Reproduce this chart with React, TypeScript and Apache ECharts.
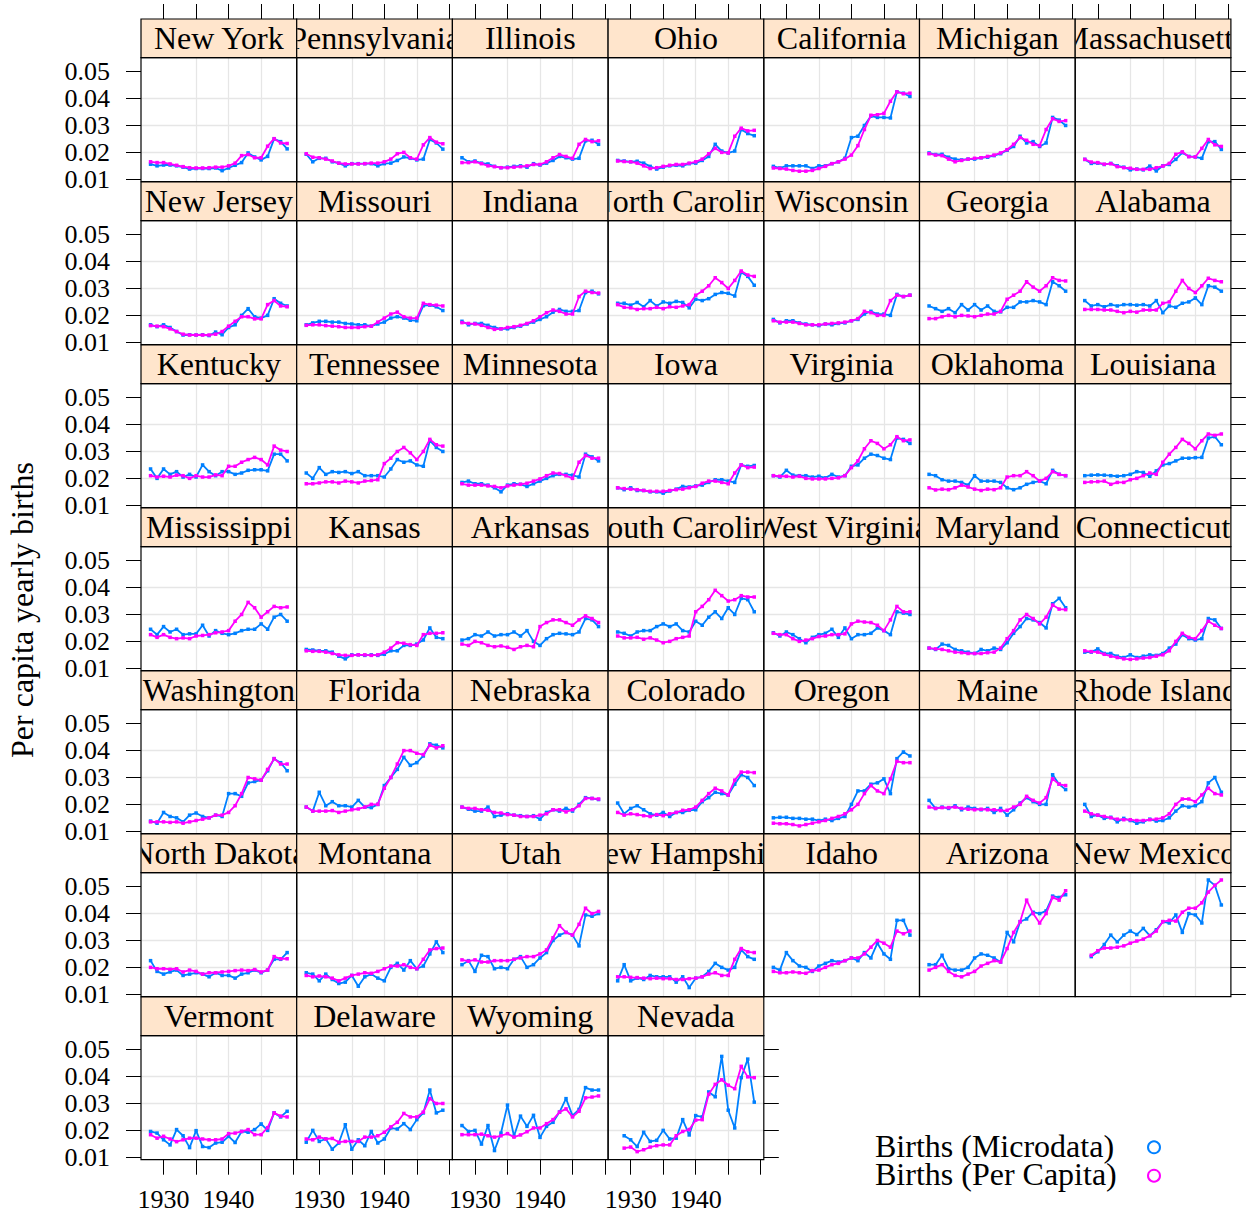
import React, { useEffect, useRef } from "react";
import * as echarts from "echarts";

// ---------- data ----------
const YEARS_FROM_1928 = [1928, 1929, 1930, 1931, 1932, 1933, 1934, 1935, 1936, 1937, 1938, 1939, 1940, 1941, 1942, 1943, 1944, 1945, 1946, 1947, 1948, 1949];
const YEARS_FROM_1929 = [1929, 1930, 1931, 1932, 1933, 1934, 1935, 1936, 1937, 1938, 1939, 1940, 1941, 1942, 1943, 1944, 1945, 1946, 1947, 1948, 1949];

const X_TICKS = [1930, 1935, 1940, 1945, 1950];
const X_LABELS = [1930, 1940];
const Y_TICKS = [0.01, 0.02, 0.03, 0.04, 0.05];

const SERIES_NAMES = ["Births (Microdata)", "Births (Per Capita)"];
const SERIES_COLORS = ["#0080ff", "#ff00ff"];
const Y_TITLE = "Per capita yearly births";

const newYorkMicro = [.0156, .0150, .0153, .0153, .0150, .0145, .0138, .0140, .0140, .0140, .0142, .0132, .0142, .0152, .0162, .0198, .0183, .0172, .0185, .0250, .0240, .0213];
const newYorkPerCapita = [.0165, .0162, .0162, .0157, .0152, .0147, .0143, .0142, .0142, .0143, .0145, .0145, .0150, .0160, .0188, .0192, .0180, .0180, .0223, .0251, .0235, .0233];
const pennsylvaniaMicro = [.0193, .0165, .0178, .0178, .0165, .0160, .0150, .0158, .0158, .0158, .0158, .0150, .0158, .0160, .0170, .0183, .0178, .0172, .0175, .0248, .0235, .0212];
const pennsylvaniaPerCapita = [.0195, .0182, .0180, .0175, .0168, .0160, .0157, .0157, .0157, .0158, .0160, .0160, .0165, .0175, .0195, .0200, .0180, .0175, .0228, .0255, .0238, .0232];
const illinoisMicro = [.0180, .0165, .0168, .0160, .0157, .0148, .0143, .0145, .0148, .0150, .0145, .0158, .0153, .0160, .0170, .0185, .0180, .0175, .0178, .0243, .0245, .0230];
const illinoisPerCapita = [.0162, .0162, .0165, .0158, .0150, .0147, .0143, .0143, .0145, .0147, .0150, .0155, .0155, .0165, .0180, .0192, .0185, .0178, .0230, .0248, .0240, .0243];
const ohioMicro = [.0170, .0168, .0165, .0167, .0160, .0148, .0138, .0145, .0150, .0152, .0150, .0158, .0160, .0170, .0185, .0230, .0205, .0198, .0205, .0285, .0270, .0262];
const ohioPerCapita = [.0168, .0166, .0165, .0160, .0150, .0140, .0143, .0148, .0152, .0155, .0155, .0160, .0165, .0175, .0195, .0215, .0200, .0198, .0260, .0290, .0280, .0282];
const californiaMicro = [.0148, .0142, .0150, .0150, .0150, .0150, .0140, .0150, .0150, .0158, .0165, .0178, .0255, .0260, .0300, .0335, .0330, .0330, .0328, .0425, .0420, .0408];
const californiaPerCapita = [.0142, .0140, .0138, .0133, .0130, .0130, .0133, .0140, .0148, .0158, .0165, .0175, .0190, .0225, .0285, .0338, .0340, .0345, .0390, .0425, .0418, .0420];
const michiganMicro = [.0198, .0192, .0193, .0182, .0175, .0172, .0175, .0175, .0180, .0182, .0188, .0195, .0208, .0222, .0260, .0235, .0240, .0222, .0235, .0330, .0320, .0300];
const michiganPerCapita = [.0195, .0190, .0188, .0175, .0165, .0170, .0175, .0178, .0180, .0185, .0190, .0198, .0210, .0230, .0255, .0245, .0230, .0225, .0285, .0325, .0315, .0318];
const massachusettsMicro = [.0174, .0159, .0160, .0155, .0159, .0150, .0145, .0135, .0138, .0135, .0149, .0131, .0150, .0155, .0174, .0199, .0185, .0183, .0178, .0240, .0240, .0211];
const massachusettsPerCapita = [.0174, .0164, .0162, .0156, .0158, .0147, .0143, .0141, .0137, .0137, .0137, .0143, .0149, .0159, .0193, .0202, .0184, .0183, .0215, .0248, .0228, .0222];

const newJerseyMicro = [.0165, .0158, .0165, .0155, .0140, .0127, .0128, .0127, .0128, .0125, .0138, .0128, .0155, .0165, .0200, .0225, .0195, .0190, .0200, .0262, .0245, .0235];
const newJerseyPerCapita = [.0162, .0160, .0158, .0150, .0140, .0130, .0127, .0127, .0127, .0127, .0130, .0140, .0160, .0178, .0195, .0195, .0187, .0187, .0240, .0255, .0235, .0232];
const missouriMicro = [.0165, .0172, .0178, .0178, .0175, .0175, .0170, .0168, .0165, .0165, .0160, .0168, .0175, .0190, .0195, .0190, .0182, .0180, .0236, .0238, .0232, .0218];
const missouriPerCapita = [.0163, .0165, .0165, .0162, .0160, .0158, .0155, .0155, .0155, .0158, .0160, .0175, .0190, .0205, .0212, .0195, .0190, .0190, .0245, .0240, .0238, .0235];
const indianaMicro = [.0178, .0165, .0170, .0170, .0163, .0155, .0150, .0150, .0155, .0160, .0168, .0175, .0185, .0195, .0212, .0222, .0215, .0215, .0218, .0285, .0290, .0280];
const indianaPerCapita = [.0173, .0170, .0168, .0163, .0155, .0148, .0150, .0155, .0158, .0163, .0170, .0180, .0195, .0210, .0220, .0215, .0205, .0205, .0270, .0290, .0285, .0283];
const northCarolinaMicro = [.0245, .0245, .0238, .0248, .0232, .0255, .0235, .0250, .0245, .0252, .0248, .0228, .0260, .0255, .0262, .0278, .0285, .0282, .0272, .0360, .0345, .0312];
const northCarolinaPerCapita = [.0240, .0230, .0228, .0222, .0225, .0225, .0230, .0225, .0232, .0230, .0235, .0240, .0275, .0290, .0310, .0340, .0322, .0300, .0330, .0365, .0350, .0345];
const wisconsinMicro = [.0185, .0172, .0180, .0180, .0172, .0168, .0165, .0162, .0168, .0165, .0170, .0172, .0180, .0185, .0205, .0215, .0205, .0205, .0200, .0278, .0270, .0275];
const wisconsinPerCapita = [.0180, .0175, .0175, .0175, .0170, .0165, .0165, .0165, .0168, .0170, .0172, .0175, .0180, .0188, .0215, .0210, .0200, .0200, .0255, .0275, .0270, .0275];
const georgiaMicro = [.0235, .0225, .0215, .0225, .0210, .0240, .0220, .0240, .0220, .0235, .0215, .0213, .0230, .0230, .0250, .0250, .0255, .0250, .0240, .0325, .0310, .0290];
const georgiaPerCapita = [.0188, .0188, .0195, .0200, .0195, .0200, .0198, .0195, .0200, .0205, .0205, .0215, .0260, .0275, .0290, .0325, .0305, .0290, .0310, .0340, .0330, .0328];
const alabamaMicro = [.0255, .0235, .0240, .0232, .0240, .0235, .0240, .0240, .0238, .0240, .0235, .0255, .0210, .0235, .0230, .0245, .0250, .0265, .0240, .0310, .0305, .0290];
const alabamaPerCapita = [.0222, .0222, .0222, .0220, .0220, .0215, .0210, .0215, .0212, .0220, .0220, .0220, .0245, .0250, .0290, .0330, .0300, .0285, .0310, .0338, .0330, .0325];

const kentuckyMicro = [.0235, .0200, .0235, .0215, .0225, .0205, .0215, .0205, .0250, .0225, .0210, .0225, .0225, .0215, .0220, .0230, .0232, .0232, .0228, .0290, .0290, .0265];
const kentuckyPerCapita = [.0210, .0205, .0208, .0205, .0212, .0210, .0200, .0210, .0205, .0205, .0213, .0210, .0245, .0245, .0260, .0270, .0278, .0270, .0250, .0320, .0305, .0300];
const tennesseeMicro = [.0220, .0200, .0240, .0215, .0225, .0222, .0225, .0218, .0225, .0210, .0210, .0210, .0205, .0235, .0270, .0260, .0265, .0250, .0245, .0340, .0315, .0300];
const tennesseePerCapita = [.0180, .0180, .0183, .0187, .0187, .0183, .0190, .0187, .0183, .0190, .0192, .0195, .0255, .0275, .0300, .0315, .0295, .0270, .0300, .0345, .0325, .0320];
const minnesotaMicro = [.0185, .0190, .0180, .0180, .0175, .0165, .0150, .0175, .0180, .0178, .0170, .0180, .0190, .0200, .0210, .0215, .0215, .0212, .0205, .0290, .0280, .0265];
const minnesotaPerCapita = [.0180, .0175, .0175, .0175, .0172, .0170, .0165, .0172, .0175, .0178, .0182, .0190, .0198, .0210, .0220, .0218, .0210, .0200, .0260, .0285, .0275, .0275];
const iowaMicro = [.0165, .0158, .0165, .0155, .0155, .0150, .0150, .0145, .0153, .0160, .0170, .0168, .0172, .0175, .0185, .0195, .0195, .0190, .0185, .0250, .0245, .0248];
const iowaPerCapita = [.0165, .0162, .0160, .0158, .0155, .0152, .0152, .0152, .0155, .0158, .0160, .0165, .0170, .0182, .0190, .0190, .0185, .0180, .0220, .0250, .0240, .0242];
const virginiaMicro = [.0210, .0205, .0230, .0212, .0210, .0210, .0205, .0208, .0202, .0215, .0205, .0210, .0245, .0250, .0275, .0290, .0285, .0275, .0270, .0350, .0345, .0330];
const virginiaPerCapita = [.0210, .0208, .0208, .0205, .0208, .0200, .0198, .0198, .0198, .0200, .0202, .0210, .0240, .0265, .0310, .0340, .0330, .0310, .0325, .0355, .0340, .0343];
const oklahomaMicro = [.0215, .0210, .0195, .0190, .0190, .0185, .0175, .0210, .0190, .0190, .0190, .0185, .0165, .0158, .0165, .0178, .0185, .0190, .0180, .0230, .0215, .0210];
const oklahomaPerCapita = [.0165, .0157, .0160, .0158, .0165, .0175, .0168, .0160, .0155, .0160, .0158, .0165, .0205, .0210, .0210, .0225, .0210, .0190, .0200, .0225, .0215, .0210];
const louisianaMicro = [.0210, .0212, .0213, .0212, .0210, .0208, .0210, .0215, .0225, .0222, .0208, .0228, .0250, .0255, .0265, .0275, .0275, .0277, .0278, .0350, .0355, .0325];
const louisianaPerCapita = [.0185, .0187, .0188, .0190, .0178, .0185, .0185, .0195, .0200, .0210, .0220, .0215, .0260, .0290, .0315, .0345, .0330, .0310, .0340, .0365, .0360, .0365];

const mississippiMicro = [.0245, .0225, .0255, .0235, .0245, .0225, .0228, .0228, .0260, .0220, .0240, .0230, .0225, .0230, .0240, .0245, .0245, .0265, .0245, .0290, .0300, .0275];
const mississippiPerCapita = [.0225, .0215, .0225, .0215, .0210, .0213, .0210, .0220, .0222, .0225, .0232, .0235, .0240, .0275, .0300, .0345, .0325, .0290, .0310, .0330, .0325, .0328];
const kansasMicro = [.0170, .0168, .0165, .0165, .0160, .0145, .0135, .0150, .0150, .0148, .0150, .0148, .0152, .0165, .0165, .0185, .0185, .0190, .0205, .0250, .0215, .0210];
const kansasPerCapita = [.0165, .0163, .0163, .0160, .0155, .0150, .0148, .0148, .0150, .0150, .0148, .0150, .0160, .0175, .0195, .0193, .0188, .0185, .0225, .0230, .0230, .0232];
const arkansasMicro = [.0205, .0210, .0225, .0220, .0235, .0220, .0225, .0225, .0235, .0220, .0240, .0200, .0185, .0210, .0225, .0230, .0228, .0225, .0235, .0285, .0280, .0255];
const arkansasPerCapita = [.0190, .0185, .0200, .0195, .0185, .0180, .0183, .0178, .0170, .0180, .0185, .0180, .0255, .0270, .0280, .0280, .0270, .0260, .0280, .0295, .0285, .0270];
const southCarolinaMicro = [.0235, .0230, .0220, .0235, .0240, .0240, .0255, .0265, .0255, .0265, .0240, .0235, .0275, .0260, .0290, .0310, .0285, .0325, .0300, .0360, .0355, .0310];
const southCarolinaPerCapita = [.0220, .0213, .0213, .0215, .0208, .0213, .0205, .0195, .0200, .0210, .0215, .0220, .0310, .0330, .0355, .0390, .0370, .0350, .0355, .0370, .0365, .0365];
const westVirginiaMicro = [.0232, .0220, .0235, .0225, .0210, .0195, .0215, .0225, .0230, .0245, .0215, .0250, .0210, .0225, .0225, .0230, .0250, .0240, .0225, .0310, .0305, .0300];
const westVirginiaPerCapita = [.0230, .0225, .0225, .0210, .0200, .0205, .0210, .0218, .0220, .0225, .0225, .0228, .0265, .0275, .0272, .0270, .0260, .0240, .0280, .0330, .0310, .0310];
const marylandMicro = [.0175, .0170, .0190, .0185, .0170, .0165, .0160, .0155, .0170, .0165, .0175, .0170, .0195, .0230, .0255, .0285, .0280, .0270, .0250, .0340, .0360, .0325];
const marylandPerCapita = [.0175, .0172, .0170, .0165, .0160, .0158, .0155, .0155, .0155, .0158, .0160, .0175, .0210, .0240, .0280, .0300, .0285, .0265, .0290, .0335, .0320, .0318];
const connecticutMicro = [.0160, .0160, .0172, .0155, .0155, .0145, .0140, .0150, .0140, .0145, .0150, .0148, .0155, .0175, .0190, .0225, .0210, .0205, .0210, .0285, .0280, .0248];
const connecticutPerCapita = [.0165, .0162, .0160, .0152, .0145, .0140, .0135, .0133, .0135, .0138, .0140, .0145, .0150, .0165, .0200, .0230, .0215, .0210, .0240, .0275, .0260, .0248];

const washingtonMicro = [.0138, .0130, .0170, .0155, .0150, .0135, .0160, .0168, .0155, .0150, .0160, .0155, .0240, .0240, .0230, .0280, .0285, .0290, .0325, .0370, .0355, .0325];
const washingtonPerCapita = [.0135, .0135, .0135, .0133, .0135, .0130, .0135, .0140, .0145, .0150, .0160, .0160, .0170, .0195, .0240, .0300, .0295, .0290, .0330, .0370, .0350, .0350];
const floridaMicro = [.0190, .0175, .0245, .0195, .0210, .0195, .0195, .0190, .0215, .0190, .0188, .0200, .0270, .0300, .0330, .0375, .0345, .0355, .0380, .0425, .0420, .0410];
const floridaPerCapita = [.0190, .0175, .0175, .0175, .0177, .0170, .0175, .0180, .0183, .0190, .0200, .0200, .0260, .0300, .0350, .0400, .0400, .0390, .0385, .0420, .0410, .0418];
const nebraskaMicro = [.0190, .0182, .0175, .0175, .0190, .0155, .0160, .0165, .0160, .0158, .0155, .0158, .0145, .0170, .0180, .0175, .0185, .0175, .0200, .0225, .0222, .0218];
const nebraskaPerCapita = [.0190, .0185, .0185, .0180, .0178, .0170, .0168, .0162, .0160, .0155, .0155, .0155, .0160, .0165, .0180, .0180, .0172, .0180, .0195, .0222, .0222, .0220];
const coloradoMicro = [.0205, .0165, .0185, .0195, .0180, .0165, .0160, .0170, .0155, .0170, .0170, .0178, .0180, .0210, .0225, .0245, .0240, .0235, .0275, .0310, .0300, .0270];
const coloradoPerCapita = [.0170, .0160, .0165, .0162, .0158, .0155, .0162, .0158, .0165, .0170, .0178, .0180, .0190, .0215, .0240, .0260, .0250, .0235, .0290, .0320, .0320, .0318];
const oregonMicro = [.0150, .0152, .0152, .0148, .0148, .0145, .0145, .0140, .0145, .0140, .0148, .0155, .0200, .0250, .0250, .0275, .0280, .0295, .0240, .0370, .0395, .0380];
const oregonPerCapita = [.0130, .0128, .0128, .0125, .0120, .0125, .0130, .0135, .0140, .0148, .0155, .0165, .0180, .0200, .0240, .0270, .0250, .0240, .0295, .0360, .0355, .0355];
const maineMicro = [.0215, .0185, .0190, .0185, .0195, .0180, .0190, .0185, .0180, .0185, .0170, .0185, .0160, .0180, .0205, .0225, .0210, .0200, .0200, .0310, .0275, .0255];
const mainePerCapita = [.0190, .0185, .0188, .0188, .0190, .0185, .0182, .0180, .0182, .0180, .0180, .0177, .0178, .0190, .0200, .0230, .0215, .0205, .0225, .0295, .0275, .0270];
const rhodeIslandMicro = [.0200, .0155, .0160, .0148, .0152, .0135, .0148, .0140, .0130, .0135, .0145, .0138, .0140, .0150, .0175, .0195, .0190, .0195, .0210, .0280, .0300, .0245];
const rhodeIslandPerCapita = [.0175, .0165, .0160, .0155, .0150, .0145, .0143, .0143, .0140, .0140, .0143, .0145, .0150, .0165, .0200, .0220, .0220, .0210, .0235, .0260, .0240, .0235];

const northDakotaMicro = [.0225, .0185, .0175, .0183, .0190, .0170, .0175, .0180, .0175, .0165, .0180, .0170, .0170, .0160, .0175, .0180, .0190, .0180, .0190, .0230, .0230, .0255];
const northDakotaPerCapita = [.0200, .0195, .0195, .0193, .0195, .0183, .0190, .0185, .0175, .0180, .0180, .0183, .0185, .0188, .0190, .0188, .0192, .0183, .0190, .0240, .0232, .0232];
const montanaMicro = [.0180, .0175, .0150, .0175, .0155, .0140, .0145, .0170, .0130, .0165, .0175, .0160, .0150, .0200, .0215, .0190, .0225, .0195, .0205, .0250, .0295, .0255];
const montanaPerCapita = [.0170, .0165, .0168, .0165, .0160, .0150, .0160, .0170, .0175, .0180, .0178, .0185, .0195, .0205, .0205, .0210, .0200, .0195, .0230, .0265, .0270, .0272];
const utahMicro = [.0210, .0225, .0185, .0245, .0240, .0195, .0200, .0195, .0230, .0240, .0200, .0210, .0235, .0255, .0300, .0320, .0330, .0320, .0280, .0395, .0390, .0400];
const utahPerCapita = [.0228, .0223, .0228, .0220, .0220, .0225, .0225, .0225, .0230, .0235, .0240, .0240, .0250, .0265, .0310, .0355, .0330, .0320, .0360, .0420, .0400, .0408];
const newHampshireMicro = [.0150, .0210, .0150, .0160, .0155, .0170, .0165, .0165, .0165, .0145, .0165, .0125, .0160, .0165, .0185, .0215, .0200, .0190, .0200, .0265, .0240, .0230];
const newHampshirePerCapita = [.0165, .0165, .0163, .0162, .0160, .0158, .0160, .0158, .0158, .0155, .0155, .0158, .0160, .0165, .0175, .0180, .0170, .0170, .0230, .0270, .0258, .0255];
const idahoMicro = [.0200, .0190, .0255, .0225, .0205, .0200, .0185, .0205, .0215, .0225, .0220, .0225, .0235, .0225, .0255, .0235, .0290, .0250, .0230, .0375, .0375, .0320];
const idahoPerCapita = [.0185, .0180, .0180, .0183, .0180, .0178, .0188, .0190, .0200, .0210, .0215, .0225, .0235, .0235, .0250, .0275, .0300, .0290, .0275, .0335, .0325, .0335];
const arizonaMicro = [.0210, .0210, .0245, .0195, .0190, .0190, .0200, .0235, .0250, .0245, .0235, .0220, .0330, .0295, .0370, .0380, .0405, .0400, .0410, .0465, .0460, .0470];
const arizonaPerCapita = [.0190, .0200, .0210, .0185, .0170, .0165, .0175, .0185, .0205, .0215, .0225, .0220, .0270, .0330, .0370, .0450, .0400, .0365, .0400, .0460, .0450, .0485];
const newMexicoMicro = [.0240, .0258, .0285, .0320, .0295, .0320, .0335, .0322, .0345, .0318, .0340, .0370, .0365, .0395, .0330, .0400, .0395, .0365, .0525, .0505, .0432];
const newMexicoPerCapita = [.0245, .0262, .0272, .0272, .0275, .0280, .0290, .0298, .0305, .0318, .0335, .0370, .0375, .0372, .0405, .0420, .0420, .0440, .0480, .0505, .0525];

const vermontMicro = [.0196, .0190, .0165, .0146, .0203, .0180, .0136, .0199, .0140, .0136, .0153, .0156, .0178, .0155, .0196, .0193, .0203, .0224, .0200, .0265, .0250, .0271];
const vermontPerCapita = [.0184, .0171, .0178, .0168, .0158, .0165, .0171, .0171, .0168, .0165, .0165, .0168, .0188, .0190, .0196, .0203, .0184, .0184, .0210, .0265, .0253, .0250];
const delawareMicro = [.0156, .0200, .0159, .0168, .0130, .0153, .0221, .0130, .0165, .0143, .0196, .0153, .0168, .0209, .0205, .0225, .0203, .0240, .0265, .0350, .0265, .0275];
const delawarePerCapita = [.0168, .0165, .0175, .0168, .0170, .0156, .0159, .0159, .0159, .0175, .0175, .0180, .0193, .0213, .0230, .0263, .0250, .0250, .0268, .0318, .0300, .0300];
const wyomingMicro = [.0218, .0196, .0200, .0149, .0218, .0125, .0190, .0294, .0178, .0253, .0215, .0256, .0174, .0215, .0230, .0268, .0318, .0255, .0278, .0359, .0350, .0350];
const wyomingPerCapita = [.0184, .0184, .0184, .0186, .0180, .0175, .0180, .0188, .0175, .0183, .0195, .0209, .0209, .0225, .0240, .0268, .0280, .0250, .0271, .0321, .0324, .0328];
const nevadaMicro = [.0180, .0165, .0140, .0193, .0159, .0163, .0200, .0168, .0171, .0240, .0183, .0255, .0250, .0343, .0325, .0475, .0275, .0209, .0396, .0465, .0305];
const nevadaPerCapita = [.0134, .0138, .0121, .0128, .0138, .0143, .0146, .0146, .0180, .0196, .0203, .0238, .0240, .0334, .0371, .0388, .0368, .0355, .0438, .0399, .0396];

const PANELS = [
  { name: "New York", years: YEARS_FROM_1928, micro: newYorkMicro, perCapita: newYorkPerCapita },
  { name: "Pennsylvania", years: YEARS_FROM_1928, micro: pennsylvaniaMicro, perCapita: pennsylvaniaPerCapita },
  { name: "Illinois", years: YEARS_FROM_1928, micro: illinoisMicro, perCapita: illinoisPerCapita },
  { name: "Ohio", years: YEARS_FROM_1928, micro: ohioMicro, perCapita: ohioPerCapita },
  { name: "California", years: YEARS_FROM_1928, micro: californiaMicro, perCapita: californiaPerCapita },
  { name: "Michigan", years: YEARS_FROM_1928, micro: michiganMicro, perCapita: michiganPerCapita },
  { name: "Massachusetts", years: YEARS_FROM_1928, micro: massachusettsMicro, perCapita: massachusettsPerCapita },
  { name: "New Jersey", years: YEARS_FROM_1928, micro: newJerseyMicro, perCapita: newJerseyPerCapita },
  { name: "Missouri", years: YEARS_FROM_1928, micro: missouriMicro, perCapita: missouriPerCapita },
  { name: "Indiana", years: YEARS_FROM_1928, micro: indianaMicro, perCapita: indianaPerCapita },
  { name: "North Carolina", years: YEARS_FROM_1928, micro: northCarolinaMicro, perCapita: northCarolinaPerCapita },
  { name: "Wisconsin", years: YEARS_FROM_1928, micro: wisconsinMicro, perCapita: wisconsinPerCapita },
  { name: "Georgia", years: YEARS_FROM_1928, micro: georgiaMicro, perCapita: georgiaPerCapita },
  { name: "Alabama", years: YEARS_FROM_1928, micro: alabamaMicro, perCapita: alabamaPerCapita },
  { name: "Kentucky", years: YEARS_FROM_1928, micro: kentuckyMicro, perCapita: kentuckyPerCapita },
  { name: "Tennessee", years: YEARS_FROM_1928, micro: tennesseeMicro, perCapita: tennesseePerCapita },
  { name: "Minnesota", years: YEARS_FROM_1928, micro: minnesotaMicro, perCapita: minnesotaPerCapita },
  { name: "Iowa", years: YEARS_FROM_1928, micro: iowaMicro, perCapita: iowaPerCapita },
  { name: "Virginia", years: YEARS_FROM_1928, micro: virginiaMicro, perCapita: virginiaPerCapita },
  { name: "Oklahoma", years: YEARS_FROM_1928, micro: oklahomaMicro, perCapita: oklahomaPerCapita },
  { name: "Louisiana", years: YEARS_FROM_1928, micro: louisianaMicro, perCapita: louisianaPerCapita },
  { name: "Mississippi", years: YEARS_FROM_1928, micro: mississippiMicro, perCapita: mississippiPerCapita },
  { name: "Kansas", years: YEARS_FROM_1928, micro: kansasMicro, perCapita: kansasPerCapita },
  { name: "Arkansas", years: YEARS_FROM_1928, micro: arkansasMicro, perCapita: arkansasPerCapita },
  { name: "South Carolina", years: YEARS_FROM_1928, micro: southCarolinaMicro, perCapita: southCarolinaPerCapita },
  { name: "West Virginia", years: YEARS_FROM_1928, micro: westVirginiaMicro, perCapita: westVirginiaPerCapita },
  { name: "Maryland", years: YEARS_FROM_1928, micro: marylandMicro, perCapita: marylandPerCapita },
  { name: "Connecticut", years: YEARS_FROM_1928, micro: connecticutMicro, perCapita: connecticutPerCapita },
  { name: "Washington", years: YEARS_FROM_1928, micro: washingtonMicro, perCapita: washingtonPerCapita },
  { name: "Florida", years: YEARS_FROM_1928, micro: floridaMicro, perCapita: floridaPerCapita },
  { name: "Nebraska", years: YEARS_FROM_1928, micro: nebraskaMicro, perCapita: nebraskaPerCapita },
  { name: "Colorado", years: YEARS_FROM_1928, micro: coloradoMicro, perCapita: coloradoPerCapita },
  { name: "Oregon", years: YEARS_FROM_1928, micro: oregonMicro, perCapita: oregonPerCapita },
  { name: "Maine", years: YEARS_FROM_1928, micro: maineMicro, perCapita: mainePerCapita },
  { name: "Rhode Island", years: YEARS_FROM_1928, micro: rhodeIslandMicro, perCapita: rhodeIslandPerCapita },
  { name: "North Dakota", years: YEARS_FROM_1928, micro: northDakotaMicro, perCapita: northDakotaPerCapita },
  { name: "Montana", years: YEARS_FROM_1928, micro: montanaMicro, perCapita: montanaPerCapita },
  { name: "Utah", years: YEARS_FROM_1928, micro: utahMicro, perCapita: utahPerCapita },
  { name: "New Hampshire", years: YEARS_FROM_1928, micro: newHampshireMicro, perCapita: newHampshirePerCapita },
  { name: "Idaho", years: YEARS_FROM_1928, micro: idahoMicro, perCapita: idahoPerCapita },
  { name: "Arizona", years: YEARS_FROM_1928, micro: arizonaMicro, perCapita: arizonaPerCapita },
  { name: "New Mexico", years: YEARS_FROM_1929, micro: newMexicoMicro, perCapita: newMexicoPerCapita },
  { name: "Vermont", years: YEARS_FROM_1928, micro: vermontMicro, perCapita: vermontPerCapita },
  { name: "Delaware", years: YEARS_FROM_1928, micro: delawareMicro, perCapita: delawarePerCapita },
  { name: "Wyoming", years: YEARS_FROM_1928, micro: wyomingMicro, perCapita: wyomingPerCapita },
  { name: "Nevada", years: YEARS_FROM_1929, micro: nevadaMicro, perCapita: nevadaPerCapita },
];

// ---------- layout / style ----------
const W = 1246;
const H = 1215;
const COLS = 7;
const PANEL_LEFT = 141;
const PANEL_W = 155.7;
const PANEL_TOP = 57.7;
const PANEL_H = 124;
const ROW_PITCH = 163;
const STRIP_H = 38.7;
const X_MIN = 1926.53;
const X_MAX = 1950.47;
const Y_MIN = 0.0091;
const Y_MAX = 0.0552;
const TICK_LEN = 15;
const FONT = "Liberation Serif";
const BIG_FONT = 32;
const AXIS_FONT = 26;
const GRID_COLOR = "#e6e6e6";
const STRIP_BG = "#ffe5cc";

export default function App() {
  const ref = useRef<HTMLDivElement>(null);

  useEffect(() => {
    document.body.style.margin = "0";
    const chart = echarts.init(ref.current!, null, { renderer: "svg" });

    const grids: any[] = [];
    const xAxes: any[] = [];
    const yAxes: any[] = [];
    const series: any[] = [];
    const graphics: any[] = [];

    const tickStyle = { show: true, length: TICK_LEN, inside: false, lineStyle: { color: "#000", width: 1 } };
    const labelStyle = { fontFamily: FONT, fontSize: AXIS_FONT, color: "#000" };

    PANELS.forEach((p, i) => {
      const col = i % COLS;
      const row = Math.floor(i / COLS);
      const left = PANEL_LEFT + col * PANEL_W;
      const top = PANEL_TOP + row * ROW_PITCH;
      const isLastRow = row === Math.floor((PANELS.length - 1) / COLS);
      const isRightEdge = col === COLS - 1 || i === PANELS.length - 1;

      grids.push({ left, top, width: PANEL_W, height: PANEL_H, show: false, containLabel: false });

      const xi = xAxes.length;
      xAxes.push({
        type: "value", gridIndex: i, min: X_MIN, max: X_MAX, position: "bottom", silent: true,
        axisLine: { show: false },
        axisTick: { ...tickStyle, show: isLastRow, customValues: X_TICKS },
        axisLabel: { ...labelStyle, show: isLastRow, customValues: X_LABELS, margin: 27, formatter: (v: number) => String(Math.round(v)) },
        splitLine: { show: true, showMinLine: false, showMaxLine: false, lineStyle: { color: GRID_COLOR, width: 1.3 } },
      });
      if (row === 0) {
        xAxes.push({
          type: "value", gridIndex: i, min: X_MIN, max: X_MAX, position: "top", offset: STRIP_H, silent: true,
          axisLine: { show: false },
          axisTick: { ...tickStyle, customValues: X_TICKS },
          axisLabel: { show: false },
          splitLine: { show: false },
        });
      }
      const yi = yAxes.length;
      yAxes.push({
        type: "value", gridIndex: i, min: Y_MIN, max: Y_MAX, position: "left", silent: true,
        axisLine: { show: false },
        axisTick: { ...tickStyle, show: col === 0, customValues: Y_TICKS },
        axisLabel: { ...labelStyle, show: col === 0, customValues: Y_TICKS, margin: 31, formatter: (v: number) => v.toFixed(2) },
        splitLine: { show: true, showMinLine: false, showMaxLine: false, lineStyle: { color: GRID_COLOR, width: 1.3 } },
      });
      if (isRightEdge) {
        yAxes.push({
          type: "value", gridIndex: i, min: Y_MIN, max: Y_MAX, position: "right", silent: true,
          axisLine: { show: false },
          axisTick: { ...tickStyle, customValues: Y_TICKS },
          axisLabel: { show: false },
          splitLine: { show: false },
        });
      }

      [p.micro, p.perCapita].forEach((vals, s) => {
        series.push({
          type: "line",
          name: SERIES_NAMES[s],
          xAxisIndex: xi,
          yAxisIndex: yi,
          data: p.years.map((yr, k) => [yr, vals[k]]),
          symbol: "rect",
          symbolSize: 3.5,
          showSymbol: true,
          lineStyle: { color: SERIES_COLORS[s], width: 1.8 },
          itemStyle: { color: SERIES_COLORS[s] },
          z: 2 + s,
          silent: true,
        });
      });

      // panel border
      graphics.push({
        type: "rect", z: 100, silent: true,
        shape: { x: left, y: top, width: PANEL_W, height: PANEL_H },
        style: { fill: "none", stroke: "#000", lineWidth: 1.2 },
      });
      // strip background
      graphics.push({
        type: "rect", z: 100, silent: true,
        shape: { x: left, y: top - STRIP_H, width: PANEL_W, height: STRIP_H },
        style: { fill: STRIP_BG, stroke: "#000", lineWidth: 1.2 },
      });
    });

    // y-axis title
    graphics.push({
      type: "text", x: 22, y: 610, rotation: Math.PI / 2, z: 100, silent: true,
      style: { text: Y_TITLE, font: `${BIG_FONT}px ${FONT}`, fill: "#000", align: "center", verticalAlign: "middle" },
    });

    // legend: text on the left, key circle on the right
    const LEGEND_LINE = 28.4;
    const LEGEND_FIRST = 1146;
    SERIES_NAMES.forEach((name, s) => {
      const cy = LEGEND_FIRST + s * LEGEND_LINE;
      graphics.push({
        type: "text", x: 875, y: cy, z: 100, silent: true,
        style: { text: name, font: `${BIG_FONT}px ${FONT}`, fill: "#000", align: "left", verticalAlign: "middle" },
      });
      graphics.push({
        type: "circle", z: 100, silent: true,
        shape: { cx: 1154, cy: cy + 1.3, r: 6 },
        style: { fill: "none", stroke: SERIES_COLORS[s], lineWidth: 2 },
      });
    });

    chart.setOption({
      animation: false,
      backgroundColor: "#fff",
      grid: grids,
      xAxis: xAxes,
      yAxis: yAxes,
      series,
      graphic: graphics,
    });

    // strip labels, clipped to their strip like lattice does
    const zr = chart.getZr();
    PANELS.forEach((p, i) => {
      const col = i % COLS;
      const row = Math.floor(i / COLS);
      const sx = PANEL_LEFT + col * PANEL_W;
      const sy = PANEL_TOP + row * ROW_PITCH - STRIP_H;
      const t = new echarts.graphic.Text({
        style: {
          text: p.name, x: sx + PANEL_W / 2, y: sy + 18.8,
          align: "center", verticalAlign: "middle",
          font: `${BIG_FONT}px ${FONT}`, fill: "#000",
        },
        z: 200,
        silent: true,
      } as any);
      t.setClipPath(new echarts.graphic.Rect({ shape: { x: sx + 0.6, y: sy, width: PANEL_W - 1.2, height: STRIP_H } }));
      zr.add(t);
    });

    return () => {
      chart.dispose();
    };
  }, []);

  return <div ref={ref} style={{ width: W, height: H }} />;
}
